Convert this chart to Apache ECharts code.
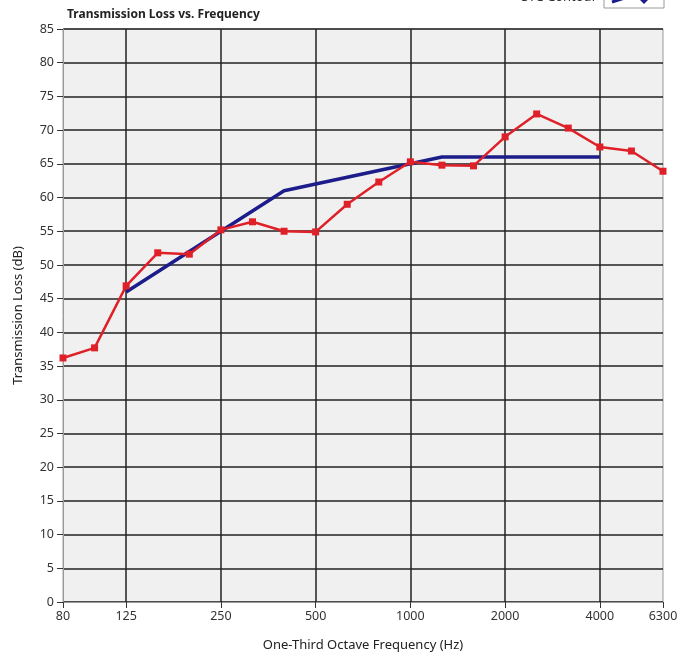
<!DOCTYPE html>
<html>
<head>
<meta charset="utf-8">
<script src="https://cdn.jsdelivr.net/npm/echarts@6/dist/echarts.min.js"></script>
<style>
  html, body { margin: 0; padding: 0; background: #fff; }
  #chart { width: 689px; height: 658px; }
</style>
</head>
<body>
<div id="chart"></div>
<script>
// one-third octave bands (Hz)
const frequencies = ['80', '100', '125', '160', '200', '250', '315', '400', '500', '630',
  '800', '1000', '1250', '1600', '2000', '2500', '3150', '4000', '5000', '6300']

// measured transmission loss (dB)
const transmissionLoss = [36.2, 37.7, 46.9, 51.8, 51.6, 55.2, 56.4, 55.0, 54.9, 59.0,
  62.3, 65.3, 64.8, 64.7, 69.0, 72.4, 70.3, 67.5, 66.9, 63.9]

// STC reference contour (125 - 4000 Hz)
const stcContour = [null, null, 46, 49, 52, 55, 58, 61, 62, 63,
  64, 65, 66, 66, 66, 66, 66, 66, null, null]

// labelled bands / grid lines
const labelledBands = ['80', '125', '250', '500', '1000', '2000', '4000', '6300']
const gridBands = ['125', '250', '500', '1000', '2000', '4000']

const font = '"Noto Sans", "Open Sans", sans-serif'
const chart = echarts.init(document.getElementById('chart'))

const option = {
  backgroundColor: '#fff',
  animation: false,
  textStyle: { fontFamily: font },
  title: {
    text: 'Transmission Loss vs. Frequency',
    left: 62,
    top: 4,
    textStyle: { fontSize: 12, fontWeight: 'bold', color: '#222', fontFamily: font }
  },
  graphic: [
    {
      type: 'text',
      right: 92,
      top: -9,
      style: { text: 'STC Contour', fontSize: 13, fill: '#333', fontFamily: font }
    },
    {
      type: 'rect',
      shape: { x: 604, y: -4, width: 60, height: 12 },
      style: { fill: '#fff', stroke: '#999', lineWidth: 1 }
    },
    {
      type: 'polyline',
      shape: { points: [[612, 2], [628, -3]] },
      style: { stroke: '#1c1c8a', lineWidth: 3 }
    },
    {
      type: 'polygon',
      shape: { points: [[640, 0], [644, 4], [648, 0], [644, -4]] },
      style: { fill: '#1c1c8a' }
    }
  ],
  grid: {
    left: 63,
    right: 26,
    top: 29,
    bottom: 56,
    show: true,
    backgroundColor: '#f0f0f0',
    borderColor: '#9a9a9a',
    borderWidth: 1
  },
  xAxis: {
    type: 'category',
    data: frequencies,
    boundaryGap: false,
    name: 'One-Third Octave Frequency (Hz)',
    nameLocation: 'middle',
    nameGap: 37,
    nameTextStyle: { fontSize: 13, color: '#222', fontFamily: font },
    axisLine: { show: true, lineStyle: { color: '#9a9a9a', width: 1 } },
    axisTick: {
      show: true,
      length: 6,
      interval: (i, v) => labelledBands.includes(v),
      lineStyle: { color: '#333' }
    },
    axisLabel: {
      interval: (i, v) => labelledBands.includes(v),
      fontSize: 12.5,
      color: '#333',
      margin: 8,
      fontFamily: font
    },
    splitLine: {
      show: true,
      interval: (i, v) => gridBands.includes(v),
      lineStyle: { color: '#222', width: 1.5 }
    }
  },
  yAxis: {
    type: 'value',
    min: 0,
    max: 85,
    interval: 5,
    name: 'Transmission Loss (dB)',
    nameLocation: 'middle',
    nameGap: 38,
    nameTextStyle: { fontSize: 13, color: '#222', fontFamily: font },
    axisLine: { show: true, lineStyle: { color: '#9a9a9a', width: 1 } },
    axisTick: { show: true, length: 6, lineStyle: { color: '#333' } },
    axisLabel: { fontSize: 12.5, color: '#333', margin: 9, fontFamily: font },
    splitLine: { show: true, lineStyle: { color: '#222', width: 1.5 } }
  },
  series: [
    {
      name: 'STC Contour',
      type: 'line',
      data: stcContour,
      symbol: 'none',
      connectNulls: false,
      lineStyle: { color: '#1c1c8a', width: 3.5 },
      itemStyle: { color: '#1c1c8a' },
      z: 3
    },
    {
      name: 'Transmission Loss',
      type: 'line',
      data: transmissionLoss,
      symbol: 'rect',
      symbolSize: 7,
      lineStyle: { color: '#e02028', width: 2.5 },
      itemStyle: { color: '#e02028' },
      z: 4
    }
  ]
}

chart.setOption(option)
</script>
</body>
</html>
